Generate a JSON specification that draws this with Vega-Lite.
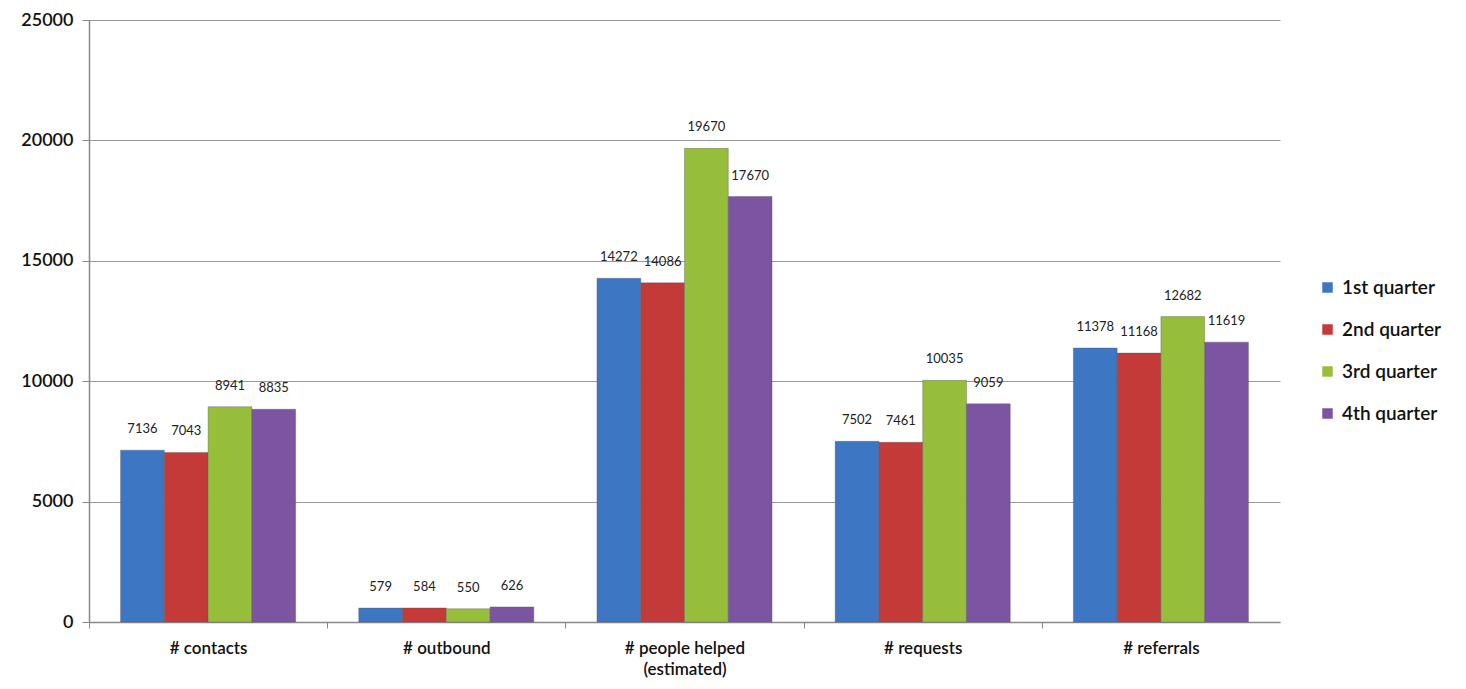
{
  "$schema": "https://vega.github.io/schema/vega-lite/v6.json",
  "autosize": "none",
  "width": 1191,
  "height": 602,
  "padding": {"left": 89, "top": 20, "right": 186, "bottom": 67},
  "background": "white",
  "config": {"font": "Lato", "view": {"stroke": null}},
  "data": {"values": [
    {"category": "# contacts", "quarter": "1st quarter", "value": 7136},
    {"category": "# contacts", "quarter": "2nd quarter", "value": 7043},
    {"category": "# contacts", "quarter": "3rd quarter", "value": 8941},
    {"category": "# contacts", "quarter": "4th quarter", "value": 8835},
    {"category": "# outbound", "quarter": "1st quarter", "value": 579},
    {"category": "# outbound", "quarter": "2nd quarter", "value": 584},
    {"category": "# outbound", "quarter": "3rd quarter", "value": 550},
    {"category": "# outbound", "quarter": "4th quarter", "value": 626},
    {"category": "# people helped|(estimated)", "quarter": "1st quarter", "value": 14272},
    {"category": "# people helped|(estimated)", "quarter": "2nd quarter", "value": 14086},
    {"category": "# people helped|(estimated)", "quarter": "3rd quarter", "value": 19670},
    {"category": "# people helped|(estimated)", "quarter": "4th quarter", "value": 17670},
    {"category": "# requests", "quarter": "1st quarter", "value": 7502},
    {"category": "# requests", "quarter": "2nd quarter", "value": 7461},
    {"category": "# requests", "quarter": "3rd quarter", "value": 10035},
    {"category": "# requests", "quarter": "4th quarter", "value": 9059},
    {"category": "# referrals", "quarter": "1st quarter", "value": 11378},
    {"category": "# referrals", "quarter": "2nd quarter", "value": 11168},
    {"category": "# referrals", "quarter": "3rd quarter", "value": 12682},
    {"category": "# referrals", "quarter": "4th quarter", "value": 11619}
  ]},
  "encoding": {
    "x": {
      "field": "category", "type": "nominal", "sort": null, "title": null,
      "scale": {"paddingInner": 0.265, "paddingOuter": 0.1325},
      "axis": {
        "labelAngle": 0, "labelFontSize": 17, "labelFontWeight": 600, "labelColor": "#111",
        "labelExpr": "split(datum.value, '|')", "labelPadding": 12, "labelLineHeight": 21,
        "tickOffset": -119.1, "labelOffset": 119.1, "tickColor": "#888", "tickSize": 6,
        "domainColor": "#888", "domainWidth": 1.5
      }
    },
    "xOffset": {"field": "quarter", "type": "nominal", "sort": null},
    "y": {
      "field": "value", "type": "quantitative", "title": null,
      "scale": {"domain": [0, 25000]},
      "axis": {
        "values": [0, 5000, 10000, 15000, 20000, 25000], "format": "d",
        "labelFontSize": 18, "labelFontWeight": 600, "labelColor": "#111", "labelPadding": 9,
        "tickColor": "#888", "tickSize": 7, "domainColor": "#888", "domainWidth": 1.5,
        "grid": true, "gridColor": "#999", "gridWidth": 1.2
      }
    }
  },
  "layer": [
    {
      "mark": {"type": "bar", "stroke": "#555", "strokeWidth": 0.6, "strokeOpacity": 0.6},
      "encoding": {
        "color": {
          "field": "quarter", "type": "nominal", "sort": null,
          "scale": {"range": ["#3d77c4", "#c43a38", "#96be3b", "#7c55a2"]},
          "legend": {
            "title": null, "orient": "none", "legendX": 1229, "legendY": 258,
            "symbolType": "square", "symbolSize": 110, "symbolStrokeWidth": 0,
            "labelFontSize": 19, "labelFontWeight": 600, "labelColor": "#111",
            "rowPadding": 22, "labelOffset": 5
          }
        }
      }
    },
    {
      "mark": {"type": "text", "dy": -21, "fontSize": 13, "color": "#222"},
      "encoding": {"text": {"field": "value", "type": "quantitative", "format": "d"}}
    }
  ]
}
